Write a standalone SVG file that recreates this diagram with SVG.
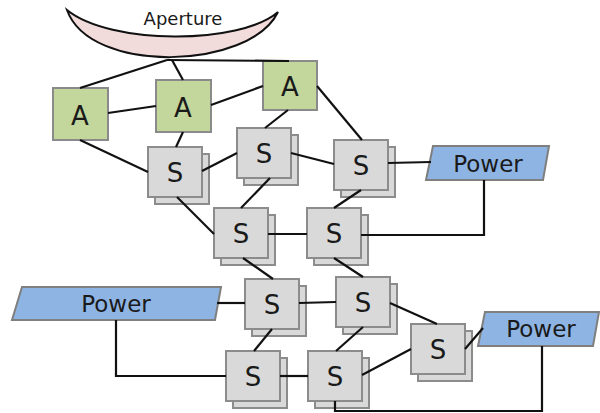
<svg xmlns="http://www.w3.org/2000/svg" width="600" height="413" viewBox="0 0 600 413">
<style>
.a{fill:#c3d69b;stroke:#8a8a8a;stroke-width:2}
.s{fill:#d9d9d9;stroke:#8c8c8c;stroke-width:2}
.p{fill:#8eb4e3;stroke:#7f7f7f;stroke-width:2}
.t{font-family:"DejaVu Sans",Verdana,sans-serif;fill:#1a1a1a;text-anchor:middle}
.c{fill:none;stroke:#111;stroke-width:2.2}
</style>
<rect width="600" height="413" fill="#fff"/>
<g id="aperture">
<path d="M67,10 C90,75 250,70 278,12 C240,45 110,45 67,10 Z" fill="#f2dcdb" stroke="#111" stroke-width="2"/>
<text class="t" x="183" y="25" font-size="18">Aperture</text>
</g>
<g id="A1"><rect class="a" x="53" y="88" width="55" height="52"/><text class="t" x="80" y="125" font-size="26">A</text></g>
<g id="A2"><rect class="a" x="156" y="80" width="55" height="52"/><text class="t" x="183" y="117" font-size="26">A</text></g>
<g id="A3"><rect class="a" x="263" y="61" width="54" height="49"/><text class="t" x="290" y="96" font-size="26">A</text></g>
<g id="S1"><rect class="s" x="155" y="154" width="54" height="50"/><rect class="s" x="148" y="147" width="54" height="50"/><text class="t" x="175" y="182" font-size="26">S</text></g>
<g id="S2"><rect class="s" x="244" y="135" width="54" height="50"/><rect class="s" x="237" y="128" width="54" height="50"/><text class="t" x="264" y="163" font-size="26">S</text></g>
<g id="S3"><rect class="s" x="341" y="147" width="54" height="50"/><rect class="s" x="334" y="140" width="54" height="50"/><text class="t" x="361" y="175" font-size="26">S</text></g>
<g id="S4"><rect class="s" x="221" y="215" width="54" height="50"/><rect class="s" x="214" y="208" width="54" height="50"/><text class="t" x="241" y="243" font-size="26">S</text></g>
<g id="S5"><rect class="s" x="314" y="215" width="54" height="50"/><rect class="s" x="307" y="208" width="54" height="50"/><text class="t" x="334" y="243" font-size="26">S</text></g>
<g id="S6"><rect class="s" x="252" y="286" width="54" height="50"/><rect class="s" x="245" y="279" width="54" height="50"/><text class="t" x="272" y="314" font-size="26">S</text></g>
<g id="S7"><rect class="s" x="233" y="358" width="54" height="50"/><rect class="s" x="226" y="351" width="54" height="50"/><text class="t" x="253" y="386" font-size="26">S</text></g>
<g id="S8"><rect class="s" x="343" y="284" width="54" height="50"/><rect class="s" x="336" y="277" width="54" height="50"/><text class="t" x="363" y="312" font-size="26">S</text></g>
<g id="S9"><rect class="s" x="418" y="331" width="54" height="50"/><rect class="s" x="411" y="324" width="54" height="50"/><text class="t" x="438" y="359" font-size="26">S</text></g>
<g id="S10"><rect class="s" x="315" y="358" width="54" height="50"/><rect class="s" x="308" y="351" width="54" height="50"/><text class="t" x="335" y="386" font-size="26">S</text></g>
<g id="Power1"><polygon class="p" points="433,146 549,146 543,180 426,180"/><text class="t" x="488" y="172" font-size="23">Power</text></g>
<g id="Power2"><polygon class="p" points="22,287 221,287 215,320 12,320"/><text class="t" x="116" y="312" font-size="23">Power</text></g>
<g id="Power3"><polygon class="p" points="485,312 599,312 593,346 478,346"/><text class="t" x="541" y="337" font-size="23">Power</text></g>
<g id="connectors">
<path class="c" d="M167,60 L80,88"/>
<path class="c" d="M172,60 L183,80"/>
<path class="c" d="M167,60 L289,61"/>
<path class="c" d="M108,113 L156,106"/>
<path class="c" d="M211,105 L263,86"/>
<path class="c" d="M317,86 L362,140"/>
<path class="c" d="M288,110 L265,128"/>
<path class="c" d="M80,140 L148,172"/>
<path class="c" d="M183,132 L176,147"/>
<path class="c" d="M202,171 L237,153"/>
<path class="c" d="M291,153 L334,164"/>
<path class="c" d="M388,163 L431,162"/>
<path class="c" d="M484,180 L484,235 L361,235"/>
<path class="c" d="M268,234 L307,234"/>
<path class="c" d="M270,178 L241,208"/>
<path class="c" d="M177,197 L214,234"/>
<path class="c" d="M361,190 L334,208"/>
<path class="c" d="M243,258 L273,279"/>
<path class="c" d="M334,258 L363,277"/>
<path class="c" d="M299,303 L336,302"/>
<path class="c" d="M217,303 L245,303"/>
<path class="c" d="M272,329 L254,351"/>
<path class="c" d="M116,320 L116,376 L226,376"/>
<path class="c" d="M280,376 L308,376"/>
<path class="c" d="M363,327 L336,351"/>
<path class="c" d="M390,303 L437,324"/>
<path class="c" d="M362,375 L411,349"/>
<path class="c" d="M465,349 L483,328"/>
<path class="c" d="M542,346 L542,411 L335,411 L335,401"/>
</g>
</svg>
